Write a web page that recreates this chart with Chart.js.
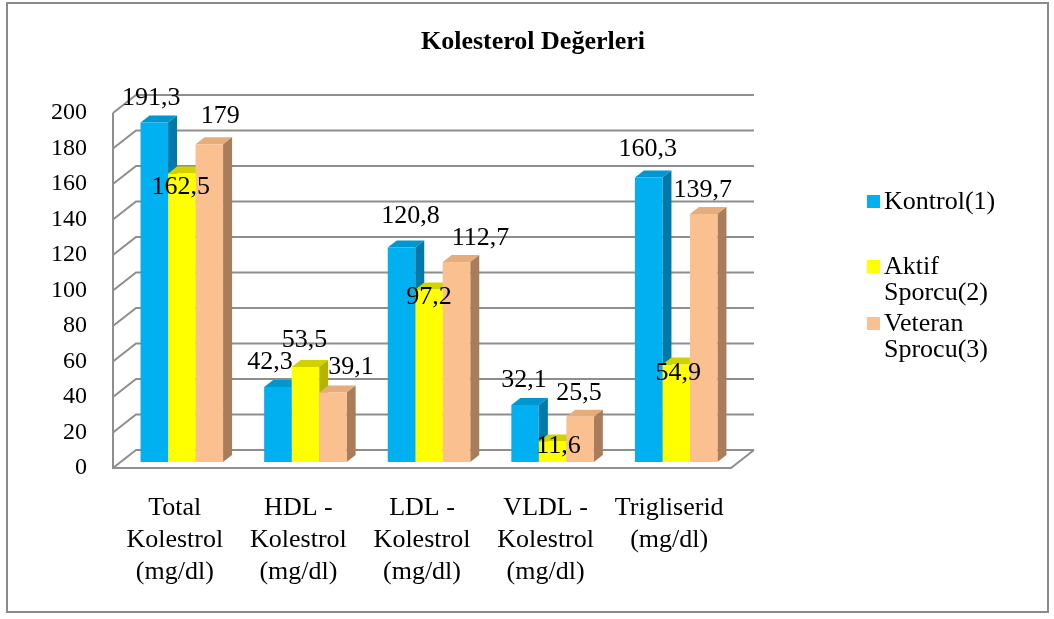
<!DOCTYPE html>
<html>
<head>
<meta charset="utf-8">
<title>Kolesterol Değerleri</title>
<script src="https://cdn.jsdelivr.net/npm/chart.js@4.4.1/dist/chart.umd.min.js"></script>
<style>
  html, body { margin: 0; padding: 0; background: #ffffff; }
  #wrap { width: 1054px; height: 619px; position: relative; }
  canvas { display: block; }
</style>
</head>
<body>
<div id="wrap"><canvas id="chart" width="1054" height="619"></canvas></div>
<script>
// ---- data ----
const chartTitle = 'Kolesterol Değerleri';
const categories = [
  ['Total', 'Kolestrol', '(mg/dl)'],
  ['HDL -', 'Kolestrol', '(mg/dl)'],
  ['LDL -', 'Kolestrol', '(mg/dl)'],
  ['VLDL -', 'Kolestrol', '(mg/dl)'],
  ['Trigliserid', '(mg/dl)']
];
const seriesNames = ['Kontrol(1)', 'Aktif Sporcu(2)', 'Veteran Sprocu(3)'];
const kontrol = [191.3, 42.3, 120.8, 32.1, 160.3];
const aktifSporcu = [162.5, 53.5, 97.2, 11.6, 54.9];
const veteranSprocu = [179, 39.1, 112.7, 25.5, 139.7];
const yTickValues = [0, 20, 40, 60, 80, 100, 120, 140, 160, 180, 200];

// ---- styling ----
const SERIF = '"Liberation Serif", "Times New Roman", Times, serif';
const frontColors = ['#00B0F0', '#FFFF00', '#FAC090'];
const topColors = ['#0097D0', '#D2D200', '#E7AC7C'];
const sideColors = ['#0078A8', '#B4B400', '#A97D5C'];
const WALL_DEPTH = { dx: 23, dy: -18 };   // floor / back wall depth
const BAR_SHIFT = { dx: 7, dy: -6 };      // bars sit a little behind the floor's front edge
const BAR_DEPTH = { dx: 9, dy: -7 };      // depth of each column
// where each value label sits relative to its column's top centre
const labelNudge = [
  [[-3, -24], [-8, -25], [9, -31], [-1, -25], [-1, -28]],
  [[-1, 14], [-1, -27], [0, 8], [6, 5], [2, 9]],
  [[11, -28], [18, -25], [24, -24], [-1, -24], [-1, -24]]
];

function poly(ctx, pts, fill) {
  ctx.beginPath();
  ctx.moveTo(pts[0][0], pts[0][1]);
  for (let k = 1; k < pts.length; k++) ctx.lineTo(pts[k][0], pts[k][1]);
  ctx.closePath();
  ctx.fillStyle = fill;
  ctx.fill();
}

// walls, floor and the top/side faces of the columns
const box3d = {
  id: 'box3d',
  beforeDatasetsDraw(chart) {
    const { ctx, chartArea: a, scales } = chart;
    const ys = scales.y;
    ctx.save();
    ctx.strokeStyle = '#8e8e8e';
    ctx.lineWidth = 2;
    ctx.lineCap = 'butt';
    ys.ticks.forEach(t => {
      const py = ys.getPixelForValue(t.value);
      ctx.beginPath();
      ctx.moveTo(a.left, py);
      ctx.lineTo(a.left + WALL_DEPTH.dx, py + WALL_DEPTH.dy);
      ctx.lineTo(a.right + WALL_DEPTH.dx, py + WALL_DEPTH.dy);
      ctx.stroke();
    });
    ctx.beginPath();
    ctx.moveTo(a.left, ys.getPixelForValue(ys.max));
    ctx.lineTo(a.left, a.bottom);
    ctx.lineTo(a.right, a.bottom);
    ctx.lineTo(a.right + WALL_DEPTH.dx, a.bottom + WALL_DEPTH.dy);
    ctx.stroke();
    ctx.restore();

    // columns are drawn in a plane slightly behind the floor edge
    ctx.save();
    ctx.translate(BAR_SHIFT.dx, BAR_SHIFT.dy);
    const n = chart.data.labels.length;
    const m = chart.data.datasets.length;
    for (let j = 0; j < n; j++) {
      for (let i = 0; i < m; i++) {
        const el = chart.getDatasetMeta(i).data[j];
        const p = el.getProps(['x', 'y', 'base', 'width'], true);
        const l = p.x - p.width / 2, r = p.x + p.width / 2;
        const dx = BAR_DEPTH.dx, dy = BAR_DEPTH.dy;
        poly(ctx, [[l, p.y], [l + dx, p.y + dy], [r + dx, p.y + dy], [r, p.y]], topColors[i]);
        poly(ctx, [[r, p.y], [r + dx, p.y + dy], [r + dx, p.base + dy], [r, p.base]], sideColors[i]);
      }
    }
  },
  afterDatasetsDraw(chart) {
    chart.ctx.restore();
  }
};

// value labels, title, legend and frame
const annotate = {
  id: 'annotate',
  afterDraw(chart) {
    const { ctx } = chart;
    ctx.save();
    ctx.fillStyle = '#000';
    ctx.textAlign = 'center';
    ctx.textBaseline = 'middle';
    ctx.font = '26px ' + SERIF;
    chart.data.datasets.forEach((ds, i) => {
      chart.getDatasetMeta(i).data.forEach((el, j) => {
        const v = ds.data[j];
        const txt = String(v).replace('.', ',');
        const [nx, ny] = labelNudge[i][j];
        ctx.fillText(txt, el.x + BAR_SHIFT.dx + nx, el.y + BAR_SHIFT.dy + ny);
      });
    });

    // title
    ctx.font = 'bold 26px ' + SERIF;
    ctx.fillText(chartTitle, 533, 42);

    // legend
    const itemLines = [[202], [267, 293], [324, 350]];
    ctx.textAlign = 'left';
    ctx.font = '26px ' + SERIF;
    chart.data.datasets.forEach((ds, i) => {
      const lines = ds.label.split(' ');
      const ys = itemLines[i];
      ctx.fillStyle = frontColors[i];
      ctx.fillRect(867, ys[0] - 7, 13, 13);
      ctx.fillStyle = '#000';
      lines.forEach((ln, k) => ctx.fillText(ln, 884, ys[k]));
    });

    // outer frame
    ctx.strokeStyle = '#8a8a8a';
    ctx.lineWidth = 2;
    ctx.strokeRect(7, 3, 1041, 609);
    ctx.restore();
  }
};

const datasets = [kontrol, aktifSporcu, veteranSprocu].map((vals, i) => ({
  label: seriesNames[i],
  data: vals,
  backgroundColor: frontColors[i],
  borderWidth: 0,
  categoryPercentage: 0.6675,
  barPercentage: 1.0,
  clip: false
}));

new Chart(document.getElementById('chart'), {
  type: 'bar',
  data: { labels: categories, datasets },
  plugins: [box3d, annotate],
  options: {
    responsive: false,
    animation: false,
    devicePixelRatio: 1,
    layout: { padding: { top: 113, left: 20, right: 323, bottom: 31 } },
    plugins: {
      legend: { display: false },
      title: { display: false },
      tooltip: { enabled: false }
    },
    scales: {
      x: {
        offset: true,
        grid: { display: false, drawTicks: false },
        border: { display: false },
        ticks: {
          color: '#000',
          padding: 24,
          maxRotation: 0,
          autoSkip: false,
          font: { family: SERIF, size: 26, lineHeight: 1.23 }
        },
        afterFit(s) { s.height = 120; s.paddingLeft = 0; s.paddingRight = 0; }
      },
      y: {
        min: 0,
        max: 200,
        grid: { display: false, drawTicks: false },
        border: { display: false },
        afterBuildTicks(s) { s.ticks = yTickValues.map(v => ({ value: v })); },
        ticks: {
          color: '#000',
          padding: 26,
          font: { family: SERIF, size: 24 }
        },
        afterFit(s) { s.width = 93; s.paddingTop = 0; s.paddingBottom = 0; }
      }
    }
  }
});
</script>
</body>
</html>
